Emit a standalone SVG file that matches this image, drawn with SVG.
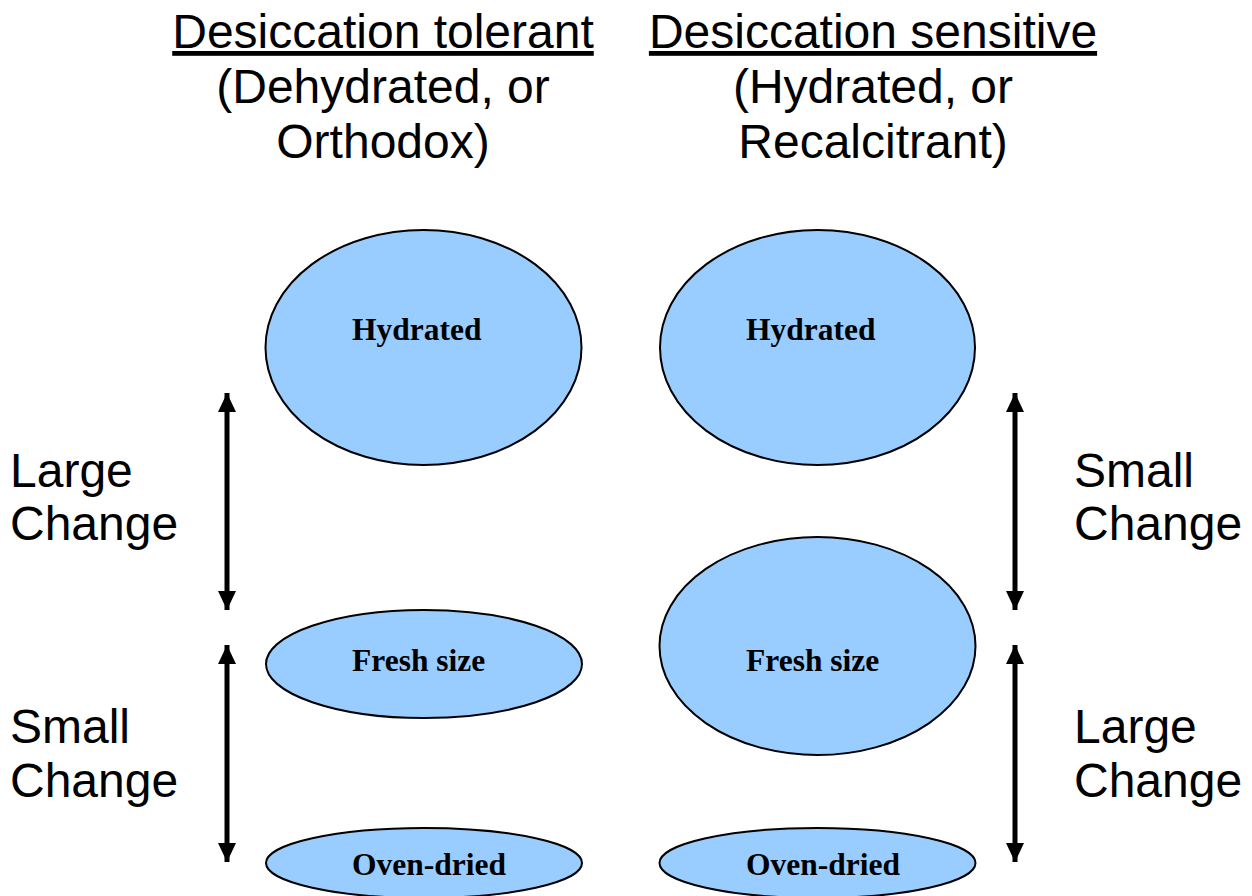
<svg xmlns="http://www.w3.org/2000/svg" width="1252" height="896" viewBox="0 0 1252 896">
<style>
.title{font-family:"Liberation Sans",Arial,sans-serif;font-size:48px;fill:#000;text-anchor:middle}
.side{font-family:"Liberation Sans",Arial,sans-serif;font-size:48px;fill:#000}
.node ellipse{fill:#99CCFF;stroke:#000;stroke-width:2}
.node text{font-family:"Liberation Serif","Times New Roman",serif;font-weight:bold;font-size:31.5px;fill:#000}
.conn line{stroke:#000;stroke-width:5}
</style>
<defs>
<marker id="ah" markerUnits="userSpaceOnUse" viewBox="0 0 19 18" refX="19" refY="9" markerWidth="19" markerHeight="18" orient="auto-start-reverse">
<path d="M0,0 L19,9 L0,18 Z" fill="#000"/>
</marker>
</defs>
<rect width="1252" height="896" fill="#fff"/>
<g id="title-left">
<text class="title" x="383" y="48" text-decoration="underline">Desiccation tolerant</text>
<text class="title" x="383" y="103">(Dehydrated, or</text>
<text class="title" x="383" y="158">Orthodox)</text>
</g>
<g id="title-right">
<text class="title" x="873" y="48" text-decoration="underline">Desiccation sensitive</text>
<text class="title" x="873" y="103">(Hydrated, or</text>
<text class="title" x="873" y="158">Recalcitrant)</text>
</g>
<g id="labels-left">
<text class="side" x="10" y="487">Large</text>
<text class="side" x="10" y="540">Change</text>
<text class="side" x="10" y="743">Small</text>
<text class="side" x="10" y="797">Change</text>
</g>
<g id="labels-right">
<text class="side" x="1074" y="487">Small</text>
<text class="side" x="1074" y="540">Change</text>
<text class="side" x="1074" y="743">Large</text>
<text class="side" x="1074" y="797">Change</text>
</g>
<g id="node-left-hydrated" class="node">
<ellipse cx="423.5" cy="347.5" rx="158" ry="117.5"/>
<text x="352" y="340">Hydrated</text>
</g>
<g id="node-left-fresh" class="node">
<ellipse cx="424" cy="664" rx="158" ry="54"/>
<text x="352" y="671">Fresh size</text>
</g>
<g id="node-left-oven" class="node">
<ellipse cx="424" cy="863" rx="158" ry="35"/>
<text x="352" y="875">Oven-dried</text>
</g>
<g id="node-right-hydrated" class="node">
<ellipse cx="817.5" cy="347.5" rx="157.5" ry="117.5"/>
<text x="746" y="340">Hydrated</text>
</g>
<g id="node-right-fresh" class="node">
<ellipse cx="817.5" cy="646" rx="158" ry="109"/>
<text x="746" y="671">Fresh size</text>
</g>
<g id="node-right-oven" class="node">
<ellipse cx="817.5" cy="863" rx="158" ry="35"/>
<text x="746" y="875">Oven-dried</text>
</g>
<g id="connectors" class="conn">
<line x1="227" y1="393" x2="227" y2="610" marker-start="url(#ah)" marker-end="url(#ah)"/>
<line x1="227" y1="645" x2="227" y2="862" marker-start="url(#ah)" marker-end="url(#ah)"/>
<line x1="1015" y1="393" x2="1015" y2="610" marker-start="url(#ah)" marker-end="url(#ah)"/>
<line x1="1015" y1="645" x2="1015" y2="862" marker-start="url(#ah)" marker-end="url(#ah)"/>
</g>
</svg>
